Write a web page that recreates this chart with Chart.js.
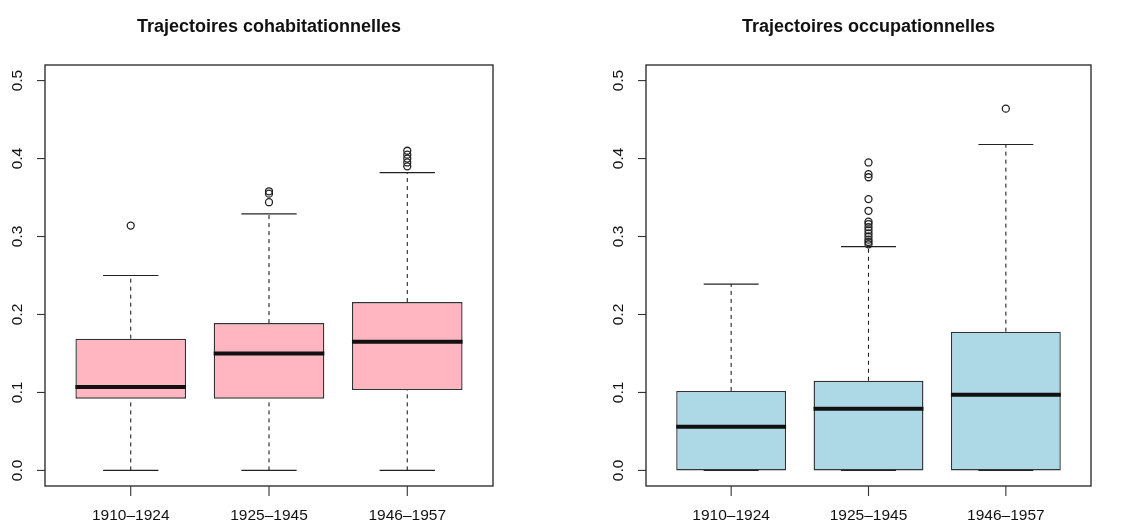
<!DOCTYPE html>
<html lang="fr">
<head>
<meta charset="utf-8">
<title>Trajectoires</title>
<script src="https://cdn.jsdelivr.net/npm/chart.js@4/dist/chart.umd.min.js"></script>
<style>
  html, body { margin: 0; padding: 0; background: #fff; }
  #wrap { position: relative; width: 1124px; height: 525px; }
  canvas { position: absolute; top: 0; }
  #cohabChart { left: 0; }
  #occupChart { left: 560px; }
</style>
</head>
<body>
<div id="wrap">
  <canvas id="cohabChart" width="560" height="525"></canvas>
  <canvas id="occupChart" width="564" height="525"></canvas>
</div>
<script>
const categories = ['1910–1924', '1925–1945', '1946–1957'];
const yTicks = [0, 0.1, 0.2, 0.3, 0.4, 0.5];

// Trajectoires cohabitationnelles
const cohabLow = [0, 0, 0];
const cohabQ1 = [0.092, 0.092, 0.103];
const cohabMedian = [0.107, 0.150, 0.165];
const cohabQ3 = [0.169, 0.189, 0.216];
const cohabHigh = [0.250, 0.329, 0.382];
const cohabOutliers = [
    [0.314],
    [0.344, 0.355, 0.358],
    [0.390, 0.395, 0.400, 0.405, 0.410]
];

// Trajectoires occupationnelles
const occupLow = [0, 0, 0];
const occupQ1 = [0, 0, 0];
const occupMedian = [0.056, 0.079, 0.097];
const occupQ3 = [0.102, 0.115, 0.178];
const occupHigh = [0.239, 0.287, 0.418];
const occupOutliers = [
    [],
    [0.290, 0.293, 0.296, 0.300, 0.304, 0.308, 0.312, 0.316, 0.319, 0.333, 0.348, 0.376, 0.380, 0.395],
    [0.464]
];

const FONT = '"Liberation Sans", Arial, Helvetica, sans-serif';
const BOX_HALF = 0.4;
const CAP_HALF = 0.2;

function line(ctx, x1, y1, x2, y2) {
    ctx.beginPath();
    ctx.moveTo(x1, y1);
    ctx.lineTo(x2, y2);
    ctx.stroke();
}

// whiskers, medians, frame, axes and title in R boxplot style
const boxplotExtras = {
    id: 'boxplotExtras',
    beforeDatasetsDraw(chart, args, opts) {
        const { ctx } = chart;
        const xs = chart.scales.x, ys = chart.scales.y;
        ctx.save();
        ctx.strokeStyle = '#222';
        ctx.lineWidth = 1.1;
        opts.low.forEach((lo, i) => {
            const cx = xs.getPixelForValue(i + 1);
            const l = xs.getPixelForValue(i + 1 - CAP_HALF);
            const r = xs.getPixelForValue(i + 1 + CAP_HALF);
            ctx.setLineDash([4, 4]);
            line(ctx, cx, ys.getPixelForValue(lo), cx, ys.getPixelForValue(opts.q1[i]));
            line(ctx, cx, ys.getPixelForValue(opts.q3[i]), cx, ys.getPixelForValue(opts.high[i]));
            ctx.setLineDash([]);
            line(ctx, l, ys.getPixelForValue(lo), r, ys.getPixelForValue(lo));
            line(ctx, l, ys.getPixelForValue(opts.high[i]), r, ys.getPixelForValue(opts.high[i]));
        });
        ctx.restore();
    },
    afterDatasetsDraw(chart, args, opts) {
        const { ctx } = chart;
        const xs = chart.scales.x, ys = chart.scales.y;
        ctx.save();
        ctx.strokeStyle = '#111';
        ctx.lineWidth = 4;
        opts.median.forEach((m, i) => {
            const py = ys.getPixelForValue(m);
            line(ctx, xs.getPixelForValue(i + 1 - BOX_HALF), py, xs.getPixelForValue(i + 1 + BOX_HALF), py);
        });
        ctx.restore();
    },
    afterDraw(chart, args, opts) {
        const { ctx, chartArea } = chart;
        const xs = chart.scales.x, ys = chart.scales.y;
        ctx.save();
        // frame
        ctx.strokeStyle = '#333';
        ctx.lineWidth = 1.4;
        ctx.strokeRect(chartArea.left, chartArea.top, chartArea.right - chartArea.left, chartArea.bottom - chartArea.top);

        ctx.lineWidth = 1.1;
        ctx.fillStyle = '#111';
        ctx.font = '15.5px ' + FONT;
        ctx.textAlign = 'center';
        ctx.textBaseline = 'middle';

        // y axis
        yTicks.forEach(v => {
            const py = ys.getPixelForValue(v);
            line(ctx, chartArea.left - 8, py, chartArea.left, py);
            ctx.save();
            ctx.translate(chartArea.left - 27, py);
            ctx.rotate(-Math.PI / 2);
            ctx.fillText(v.toFixed(1), 0, 0);
            ctx.restore();
        });

        // x axis
        categories.forEach((c, i) => {
            const px = xs.getPixelForValue(i + 1);
            line(ctx, px, chartArea.bottom, px, chartArea.bottom + 10);
            ctx.fillText(c, px, chartArea.bottom + 30);
        });

        // title
        ctx.font = 'bold 18px ' + FONT;
        ctx.fillText(opts.title, (chartArea.left + chartArea.right) / 2, 27);
        ctx.restore();
    }
};

function makeChart(id, title, low, q1, median, q3, high, outliers, fill, padding) {
    const boxes = categories.map((c, i) => ({ x: i + 1, y: [q1[i], q3[i]] }));
    const points = [];
    outliers.forEach((list, i) => list.forEach(v => points.push({ x: i + 1, y: v })));

    return new Chart(document.getElementById(id), {
        type: 'bar',
        data: {
            datasets: [{
                data: boxes,
                backgroundColor: fill,
                borderColor: '#333',
                borderWidth: 1.4,
                borderSkipped: false,
                barPercentage: 0.8,
                categoryPercentage: 1.0
            }, {
                type: 'scatter',
                data: points,
                pointRadius: 3.5,
                pointBorderWidth: 1.3,
                pointBackgroundColor: 'rgba(0,0,0,0)',
                pointBorderColor: '#222'
            }]
        },
        options: {
            responsive: false,
            animation: false,
            layout: { padding: padding },
            scales: {
                x: {
                    type: 'linear',
                    min: 0.38,
                    max: 3.62,
                    offset: false,
                    display: false,
                    afterBuildTicks: axis => {
                        axis.ticks = categories.map((c, i) => ({ value: i + 1 }));
                    }
                },
                y: { min: -0.02, max: 0.52, display: false }
            },
            plugins: {
                legend: { display: false },
                tooltip: { enabled: false },
                boxplotExtras: { title, low, q1, median, q3, high }
            }
        },
        plugins: [boxplotExtras]
    });
}

makeChart('cohabChart', 'Trajectoires cohabitationnelles',
    cohabLow, cohabQ1, cohabMedian, cohabQ3, cohabHigh, cohabOutliers,
    '#FFB6C1', { left: 45, top: 65, right: 67, bottom: 39 });

makeChart('occupChart', 'Trajectoires occupationnelles',
    occupLow, occupQ1, occupMedian, occupQ3, occupHigh, occupOutliers,
    '#ADD8E6', { left: 86, top: 65, right: 33, bottom: 39 });
</script>
</body>
</html>
